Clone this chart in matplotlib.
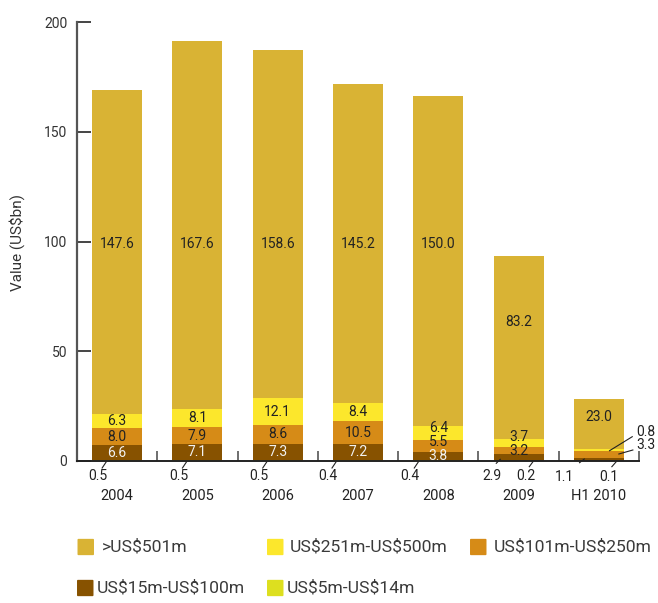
import matplotlib
matplotlib.use("Agg")
import matplotlib.pyplot as plt
from matplotlib.patches import FancyBboxPatch
import numpy as np

plt.rcParams['font.family'] = ['Roboto', 'DejaVu Sans']
plt.rcParams['text.parse_math'] = False

# ---- data ----
years = ["2004", "2005", "2006", "2007", "2008", "2009", "H1 2010"]
series_names = [">US$501m", "US$251m-US$500m", "US$101m-US$250m",
                "US$15m-US$100m", "US$5m-US$14m"]
v_5_14 = [0.5, 0.5, 0.5, 0.4, 0.4, 0.2, 0.1]
v_15_100 = [6.6, 7.1, 7.3, 7.2, 3.8, 2.9, 1.1]
v_101_250 = [8.0, 7.9, 8.6, 10.5, 5.5, 3.2, 3.3]
v_251_500 = [6.3, 8.1, 12.1, 8.4, 6.4, 3.7, 0.8]
v_501 = [147.6, 167.6, 158.6, 145.2, 150.0, 83.2, 23.0]
yticks = [0, 50, 100, 150, 200]

# stacking order bottom -> top
stack = [v_5_14, v_15_100, v_101_250, v_251_500, v_501]
colors = ['#DDDF1F', '#875200', '#D68B17', '#FCE72C', '#D9B334']
legend_colors = {">US$501m": '#D9B334', "US$251m-US$500m": '#FCE72C',
                 "US$101m-US$250m": '#D68B17', "US$15m-US$100m": '#875200',
                 "US$5m-US$14m": '#DDDF1F'}

W, H = 658, 603
fig = plt.figure(figsize=(W / 100, H / 100), dpi=100)
ax = fig.add_axes([77 / W, 1 - 461 / H, (639 - 77) / W, (461 - 22) / H])

x = np.arange(len(years))
bottom = np.zeros(len(years))
for vals, c in zip(stack, colors):
    ax.bar(x, vals, width=0.622, bottom=bottom, color=c, linewidth=0, zorder=2)
    bottom += np.array(vals)

ax.set_xlim(-0.5, 6.5)
ax.set_ylim(0, 200)
for s in ['top', 'right']:
    ax.spines[s].set_visible(False)
ax.spines['left'].set_color('#555555')
ax.spines['left'].set_linewidth(1.6)
ax.spines['bottom'].set_color('#222222')
ax.spines['bottom'].set_linewidth(1.4)
ax.spines['bottom'].set_zorder(3)

ax.set_yticks(yticks)
ax.tick_params(axis='y', direction='in', length=10, width=1.4, color='#444444',
               labelsize=10, labelcolor='#333333', pad=7)
ax.set_xticks([])
ax.set_xticks(np.arange(0.5, 7.0, 1.0), minor=True)
ax.tick_params(axis='x', which='minor', direction='in', length=7, width=1.2,
               color='#555555', labelbottom=False)
ax.set_ylabel("Value (US$bn)", fontsize=11, color='#333333')
ax.yaxis.set_label_coords(-0.093, 0.497)


def pxpt(i, dx, dy):
    """point at pixel offset (dx right, dy down) from (bar i, baseline)"""
    base = ax.transData.transform((i, 0))
    return ax.transData.inverted().transform((base[0] + dx, base[1] - dy))


txt_dark = '#222222'
# year labels
for i, yr in enumerate(years):
    p = pxpt(i, 0, 35)
    ax.text(p[0], p[1], yr, ha='center', va='center', fontsize=10.5,
            color=txt_dark, clip_on=False)

# inside labels
outside = {(5, 1), (6, 1), (6, 2), (6, 3)}
for i in range(len(years)):
    b = v_5_14[i]
    prev = -1e9
    for s in range(1, 5):
        v = stack[s][i]
        if (i, s) not in outside:
            if s == 4:
                y = min(b + 0.64 * v, 99)
            else:
                y = max(b + v / 2, prev + 6.4)
                prev = y
            col = '#F2F2F2' if s == 1 else txt_dark
            ax.text(i, y, f"{v:.1f}", ha='center', va='center', fontsize=10,
                    color=col, zorder=4)
        b += v

# outside labels with leader lines: (cat, series, text dx,dy, line start, line end) in pixels
small_dx = [-19, -19, -19, -30, -28]
specs = []
for i, d in enumerate(small_dx):
    specs.append((i, 0, (d, 15.5), (d + 4, 7), (d + 8, 1)))
specs += [
    (5, 0, (7.7, 15.5), (10.7, 5.7), (14.4, 0.7)),
    (6, 0, (10, 16), (13, 5.7), (17.4, 0.7)),
    (5, 1, (-26.6, 15.5), (-22.3, 2.3), (-18.3, -1.7)),
    (6, 1, (-34, 16), (-19.3, 1.7), (-14.6, -2)),
    (6, 2, (47, -16), (20, -7), (34, -11)),
    (6, 3, (46.7, -29.3), (10.7, -10.3), (33.4, -24.3)),
]
for i, s, t, l0, l1 in specs:
    v = stack[s][i]
    tp = pxpt(i, *t)
    ax.text(tp[0], tp[1], f"{v:.1f}", ha='center', va='center', fontsize=10,
            color=txt_dark, clip_on=False, zorder=5)
    a = pxpt(i, *l0)
    c = pxpt(i, *l1)
    ax.plot([a[0], c[0]], [a[1], c[1]], color='#222222', lw=0.8,
            clip_on=False, zorder=5)

# legend (manual, pixel layout)
leg_layout = [(">US$501m", 77.5, 547, 101.5), ("US$251m-US$500m", 267, 547, 290),
              ("US$101m-US$250m", 470, 547, 494), ("US$15m-US$100m", 77, 588, 96.5),
              ("US$5m-US$14m", 267, 588, 287)]
for name, sx, cy, tx in leg_layout:
    sq = 16.5
    patch = FancyBboxPatch(((sx + 1) / W, 1 - (cy + sq / 2 - 1) / H),
                           (sq - 2) / W, (sq - 2) / H,
                           boxstyle="round,pad=0.0015",
                           transform=fig.transFigure, facecolor=legend_colors[name],
                           edgecolor='none')
    fig.patches.append(patch)
    fig.text(tx / W, 1 - cy / H, name, ha='left', va='center', fontsize=12.6,
             color='#3a3a3a')

fig.savefig("out.png", dpi=100)
